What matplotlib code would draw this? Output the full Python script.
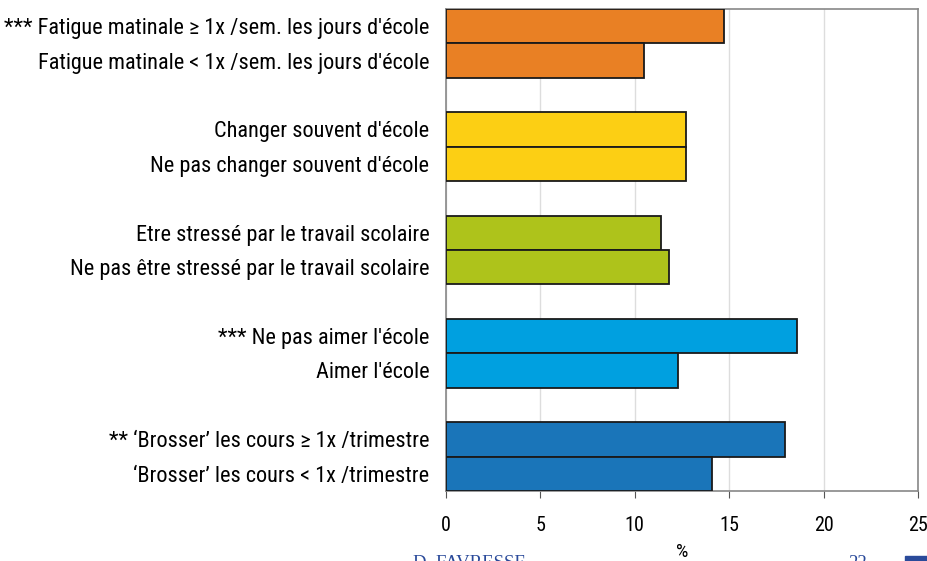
import matplotlib
matplotlib.use("Agg")
import matplotlib.pyplot as plt

labels = [
    "*** Fatigue matinale \u2265 1x /sem. les jours d'\u00e9cole",
    "Fatigue matinale < 1x /sem. les jours d'\u00e9cole",
    "Changer souvent d'\u00e9cole",
    "Ne pas changer souvent d'\u00e9cole",
    "Etre stress\u00e9 par le travail scolaire",
    "Ne pas \u00eatre stress\u00e9 par le travail scolaire",
    "*** Ne pas aimer l'\u00e9cole",
    "Aimer l'\u00e9cole",
    "** \u2018Brosser\u2019 les cours \u2265 1x /trimestre",
    "\u2018Brosser\u2019 les cours < 1x /trimestre",
]
values = [14.7, 10.5, 12.7, 12.7, 11.4, 11.8, 18.6, 12.3, 17.95, 14.1]
group_colors = ["#E98024", "#FCCF14", "#AEC31B", "#00A0E0", "#1A75B9"]
xticks = [0, 5, 10, 15, 20, 25]
xlabel = "%"

plt.rcParams['font.family'] = ['Roboto Condensed', 'DejaVu Sans']

fig = plt.figure(figsize=(9.27, 5.61), dpi=100)
ax = fig.add_axes([446/927, 1-491/561, (918-446)/927, (491-9)/561])

ypos = []
colors = []
for i in range(len(values)):
    g, j = divmod(i, 2)
    ypos.append(g*3 + j + 0.5)
    colors.append(group_colors[g])

ax.barh(ypos, values, height=1.0, color=colors, edgecolor="#1a1a1a", linewidth=1.3, zorder=3)
ax.set_ylim(14, 0)
ax.set_xlim(0, 25)
ax.set_xticks(xticks)
ax.set_xticklabels([str(t) for t in xticks], fontsize=14.5)
ax.set_yticks(ypos)
ax.set_yticklabels(labels, fontsize=16)
ax.tick_params(axis='y', length=0, pad=12)
ax.tick_params(axis='x', length=5, color="#555555", pad=13)
ax.xaxis.grid(True, color="#dddddd", linewidth=1, zorder=0)
for s in ax.spines.values():
    s.set_color("#888888")
    s.set_linewidth(1.2)
ax.set_xlabel(xlabel, fontsize=14, labelpad=6)

fig.text(413/927, -11/561, "D. FAVRESSE", color="#2A4A9A", fontsize=13.5, family="Liberation Serif", va="bottom")
fig.text(848/927, -11/561, "22", color="#2A4A9A", fontsize=13.5, family="Liberation Serif", va="bottom")
fig.patches.append(plt.Rectangle((905/927, 0), 22/927, 5/561, transform=fig.transFigure, color="#2A4A9A", figure=fig))

fig.savefig("out.png", dpi=100)
